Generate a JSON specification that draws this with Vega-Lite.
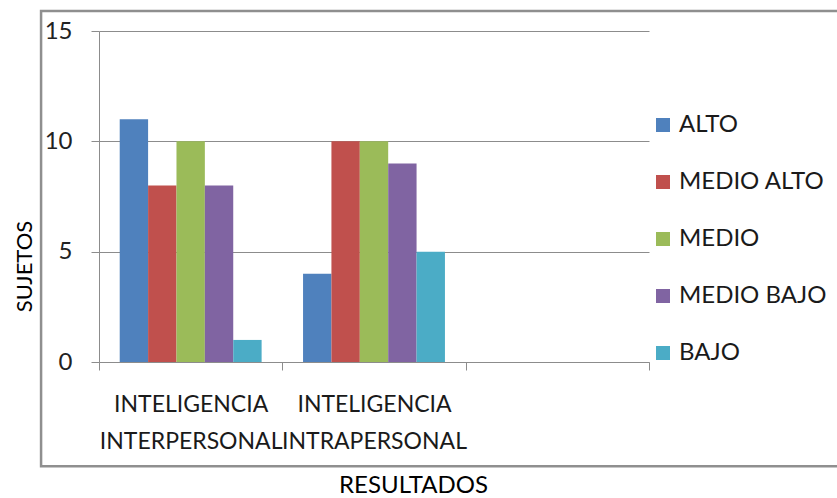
{
  "$schema": "https://vega.github.io/schema/vega-lite/v6.json",
  "autosize": {"type": "none"},
  "width": 550,
  "height": 331,
  "padding": {"left": 99, "top": 31, "right": 188, "bottom": 136},
  "background": "white",
  "config": {
    "view": {"stroke": null},
    "font": "Lato",
    "axis": {"labelFont": "Lato", "titleFont": "Lato", "titleFontWeight": "normal"}
  },
  "data": {
    "values": [
      {"cat": "INTELIGENCIA INTERPERSONAL", "nivel": "ALTO", "sujetos": 11},
      {"cat": "INTELIGENCIA INTERPERSONAL", "nivel": "MEDIO ALTO", "sujetos": 8},
      {"cat": "INTELIGENCIA INTERPERSONAL", "nivel": "MEDIO", "sujetos": 10},
      {"cat": "INTELIGENCIA INTERPERSONAL", "nivel": "MEDIO BAJO", "sujetos": 8},
      {"cat": "INTELIGENCIA INTERPERSONAL", "nivel": "BAJO", "sujetos": 1},
      {"cat": "INTELIGENCIA INTRAPERSONAL", "nivel": "ALTO", "sujetos": 4},
      {"cat": "INTELIGENCIA INTRAPERSONAL", "nivel": "MEDIO ALTO", "sujetos": 10},
      {"cat": "INTELIGENCIA INTRAPERSONAL", "nivel": "MEDIO", "sujetos": 10},
      {"cat": "INTELIGENCIA INTRAPERSONAL", "nivel": "MEDIO BAJO", "sujetos": 9},
      {"cat": "INTELIGENCIA INTRAPERSONAL", "nivel": "BAJO", "sujetos": 5}
    ]
  },
  "layer": [
    {
      "data": {"values": [{}]},
      "mark": {"type": "rect", "fill": null, "stroke": "#8f8f8f", "strokeWidth": 2.5},
      "encoding": {
        "x": {"datum": "INTELIGENCIA INTERPERSONAL", "bandPosition": -0.316, "type": "nominal"},
        "x2": {"datum": "", "bandPosition": 2.1},
        "y": {"datum": 15.91, "type": "quantitative"},
        "y2": {"datum": -4.72}
      }
    },
    {
      "mark": {"type": "bar"},
      "encoding": {
        "x": {
          "field": "cat",
          "type": "nominal",
          "sort": null,
          "scale": {"domain": ["INTELIGENCIA INTERPERSONAL", "INTELIGENCIA INTRAPERSONAL", ""], "paddingInner": 0, "paddingOuter": 0},
          "axis": {
            "title": "RESULTADOS",
            "titleFontSize": 24,
            "titleColor": "#000000",
            "titleX": 314,
            "titleY": 111,
            "titleAnchor": "start",
            "titleAlign": "center",
            "titleBaseline": "top",
            "labelAngle": 0,
            "labelAlign": "center",
            "labelExpr": "split(datum.label, ' ')",
            "labelFontSize": 23,
            "labelColor": "#1a1a1a",
            "labelLineHeight": 37,
            "labelPadding": 34,
            "labelLimit": 400,
            "labelOverlap": false,
            "labelBound": false,
            "labelFlush": false,
            "tickBand": "extent",
            "tickSize": 8,
            "tickColor": "#8c8c8c",
            "domainColor": "#8c8c8c",
            "grid": false
          }
        },
        "xOffset": {
          "field": "nivel",
          "type": "nominal",
          "sort": null,
          "scale": {"domain": ["ALTO", "MEDIO ALTO", "MEDIO", "MEDIO BAJO", "BAJO"], "paddingInner": 0, "paddingOuter": 0.73}
        },
        "y": {
          "field": "sujetos",
          "type": "quantitative",
          "scale": {"domain": [0, 15], "nice": false},
          "axis": {
            "title": "SUJETOS",
            "titleFontSize": 22,
            "titleColor": "#000000",
            "titleX": -75,
            "titleY": 235,
            "titleAngle": -90,
            "titleAlign": "center",
            "titleBaseline": "middle",
            "values": [0, 5, 10, 15],
            "labelFontSize": 24,
            "labelColor": "#222222",
            "labelPadding": 19,
            "tickSize": 8,
            "tickColor": "#8c8c8c",
            "domainColor": "#8c8c8c",
            "gridColor": "#8c8c8c",
            "grid": true
          }
        },
        "color": {
          "field": "nivel",
          "type": "nominal",
          "sort": null,
          "scale": {"domain": ["ALTO", "MEDIO ALTO", "MEDIO", "MEDIO BAJO", "BAJO"], "range": ["#4F81BD", "#C0504D", "#9BBB59", "#8064A2", "#4BACC6"]},
          "legend": {
            "title": null,
            "orient": "none",
            "legendX": 552,
            "legendY": 82,
            "symbolType": "square",
            "symbolSize": 196,
            "symbolStrokeWidth": 0,
            "labelFontSize": 24,
            "labelColor": "#1a1a1a",
            "labelOffset": 4,
            "rowPadding": 33,
            "padding": 0,
            "labelLimit": 300
          }
        }
      }
    }
  ]
}
